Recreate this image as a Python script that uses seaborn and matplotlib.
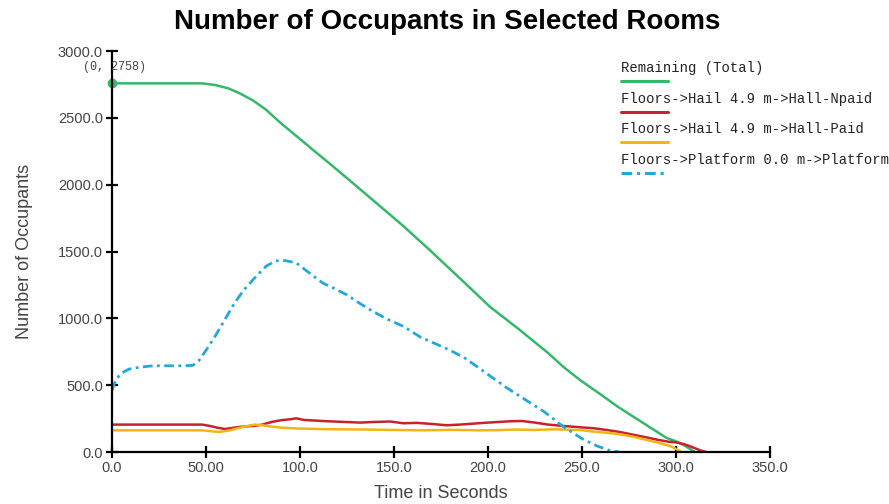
import matplotlib
matplotlib.use("Agg")
import matplotlib.pyplot as plt
import seaborn as sns
import pandas as pd
from matplotlib.lines import Line2D

# ---- data ----
remaining_t = [0, 48, 55, 62, 68, 75, 82, 89, 95, 101, 107, 116, 125, 140, 155, 169, 185, 201, 217, 232, 240, 249, 260, 269, 280, 290, 295, 300, 305, 310]
remaining_y = [2758, 2758, 2745, 2720, 2683, 2630, 2560, 2470, 2400, 2330, 2259, 2155, 2049, 1870, 1690, 1511, 1300, 1087, 912, 740, 638, 538, 430, 339, 240, 150, 105, 80, 45, 0]

platform_t = [0, 2, 5, 9, 15, 22, 30, 38, 43, 46, 50, 55, 60, 65, 70, 77, 82, 87, 92, 98, 104, 112, 118, 125, 132, 139, 147, 155, 164, 172, 180, 188, 194, 201, 210, 220, 230, 240, 250, 258, 265, 270]
platform_y = [460, 540, 590, 620, 635, 645, 645, 645, 648, 680, 760, 870, 990, 1110, 1210, 1320, 1390, 1430, 1432, 1415, 1350, 1265, 1225, 1175, 1110, 1050, 990, 940, 860, 810, 760, 700, 640, 570, 480, 390, 300, 190, 100, 45, 10, 0]

npaid_t = [0, 48, 52, 56, 60, 64, 68, 72, 76, 80, 85, 90, 95, 98, 102, 107, 112, 118, 125, 132, 140, 148, 155, 162, 170, 178, 185, 192, 200, 206, 212, 218, 225, 232, 240, 249, 256, 263, 270, 277, 284, 290, 296, 300, 304, 308, 313, 316]
npaid_y = [205, 205, 195, 182, 172, 180, 188, 192, 196, 205, 225, 238, 245, 252, 240, 236, 232, 228, 224, 220, 225, 228, 215, 218, 210, 200, 205, 212, 220, 225, 230, 232, 220, 205, 195, 185, 178, 165, 150, 130, 110, 92, 77, 72, 60, 40, 12, 0]

paid_t = [0, 48, 53, 57, 62, 67, 72, 76, 80, 85, 90, 100, 110, 120, 135, 150, 165, 180, 195, 206, 215, 225, 235, 249, 258, 266, 272, 277, 283, 289, 295, 298, 301, 303]
paid_y = [162, 162, 155, 150, 160, 178, 195, 205, 200, 190, 182, 175, 172, 170, 168, 165, 162, 166, 162, 164, 168, 165, 170, 164, 150, 140, 128, 115, 95, 75, 52, 38, 15, 0]

series_names = ["Remaining (Total)",
                "Floors->Hail 4.9 m->Hall-Npaid",
                "Floors->Hail 4.9 m->Hall-Paid",
                "Floors->Platform 0.0 m->Platform"]
x_ticks = [0, 50, 100, 150, 200, 250, 300, 350]
x_tick_labels = ["0.0", "50.00", "100.0", "150.0", "200.0", "250.0", "300.0", "350.0"]
y_ticks = [0, 500, 1000, 1500, 2000, 2500, 3000]
y_tick_labels = ["0.0", "500.0", "1000.0", "1500.0", "2000.0", "2500.0", "3000.0"]

# ---- style ----
sns.set_style("white")
plt.rcParams['font.family'] = ['Liberation Sans', 'DejaVu Sans']

GREEN = "#34b86a"
RED = "#c8232c"
YELLOW = "#f4b414"
BLUE = "#22a9dc"
DASH = [3.5, 1.6, 1.0, 1.6]

fig = plt.figure(figsize=(8.89, 5.04), dpi=100)
ax = fig.add_axes([112/889, 1 - 452/504, 658/889, 401/504])

sns.lineplot(x=remaining_t, y=remaining_y, ax=ax, color=GREEN, lw=1.8)
sns.lineplot(x=npaid_t, y=npaid_y, ax=ax, color=RED, lw=1.8)
sns.lineplot(x=paid_t, y=paid_y, ax=ax, color=YELLOW, lw=1.8)
sns.lineplot(x=platform_t, y=platform_y, ax=ax, color=BLUE, lw=2.0)
ax.lines[-1].set_dashes(DASH)

ax.plot([remaining_t[0]], [remaining_y[0]], 'o', color=GREEN, ms=6, clip_on=False)
ax.annotate(f"({remaining_t[0]}, {remaining_y[0]})", (remaining_t[0], remaining_y[0]),
            xytext=(2, 12), textcoords="offset points", fontsize=8.5,
            ha="center", va="center",
            color="#444444", family=["Liberation Mono", "DejaVu Sans Mono"])

ax.set_xlim(0, 350)
ax.set_ylim(0, 3000)
ax.set_xticks(x_ticks)
ax.set_xticklabels(x_tick_labels)
ax.set_yticks(y_ticks)
ax.set_yticklabels(y_tick_labels)
ax.tick_params(axis='both', direction='inout', length=9, width=1.6, color='black',
               labelsize=10.5, labelcolor="#444444", pad=2, bottom=True, left=True)
for s in ["top", "right"]:
    ax.spines[s].set_visible(False)
for s in ["left", "bottom"]:
    ax.spines[s].set_color("black")
    ax.spines[s].set_linewidth(1.6)

ax.set_xlabel("Time in Seconds", fontsize=13, color="#444444", labelpad=7)
ax.set_ylabel("Number of Occupants", fontsize=13, color="#444444", labelpad=18)

fig.text(447/889, 1 - 22/504, "Number of Occupants in Selected Rooms",
         ha="center", va="center", fontsize=20, fontweight="bold", color="black")

# ---- legend (text above short line sample) ----
colors = [GREEN, RED, YELLOW, BLUE]
rows_text = [68, 99, 129, 160]
for name, c, ty in zip(series_names, colors, rows_text):
    fig.text(621/889, 1 - ty/504, name, ha="left", va="center", fontsize=10,
             color="#222222", family=["Liberation Mono", "DejaVu Sans Mono"])
    ly = 1 - (ty + 13)/504
    ln = Line2D([621/889, 668/889], [ly, ly], transform=fig.transFigure,
                color=c, lw=2.2)
    if c == BLUE:
        ln.set_dashes(DASH)
    fig.add_artist(ln)

fig.savefig("out.png", dpi=100)
